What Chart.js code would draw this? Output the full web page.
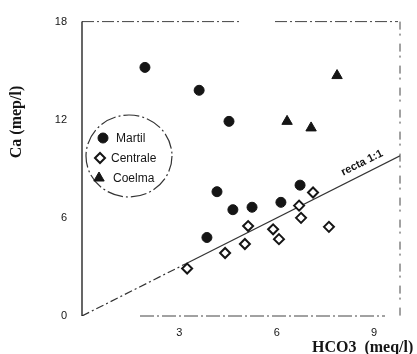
<!DOCTYPE html>
<html>
<head>
<meta charset="utf-8">
<script src="https://cdn.jsdelivr.net/npm/chart.js@4/dist/chart.umd.min.js"></script>
<style>
  html, body { margin: 0; padding: 0; background: #fff; }
</style>
</head>
<body>
<canvas id="chart" width="417" height="354"></canvas>
<script>
// values
const martilX = [1.94, 3.61, 4.53, 4.16, 4.65, 5.24, 3.85, 6.13, 6.72];
const martilY = [15.2, 13.8, 11.9, 7.6, 6.5, 6.65, 4.8, 6.95, 8.0];
const centraleX = [3.24, 4.41, 5.02, 5.12, 5.89, 6.07, 6.69, 6.75, 7.12, 7.61];
const centraleY = [2.9, 3.85, 4.4, 5.5, 5.3, 4.7, 6.75, 6.0, 7.55, 5.45];
const coelmaX = [6.32, 7.06, 7.86];
const coelmaY = [11.9, 11.5, 14.7];
const rectaX = [0, 3.2, 9.8];   // 1:1 reference line, y = x
const xTicks = [3, 6, 9];
const yTicks = [0, 6, 12, 18];
const seriesNames = ['Martil', 'Centrale', 'Coelma'];

const INK = '#151515';
const toPoints = (xs, ys) => xs.map((x, i) => ({ x: x, y: ys[i] }));

const extras = {
  id: 'extras',
  afterDraw: (chart) => {
    const { ctx, chartArea: a, scales } = chart;
    ctx.save();

    // frame (dash-dot, like the scan)
    ctx.strokeStyle = '#444';
    ctx.lineWidth = 1;
    ctx.setLineDash([12, 3, 2, 3]);
    ctx.beginPath();
    ctx.moveTo(a.left, a.top); ctx.lineTo(a.left + 160, a.top);
    ctx.moveTo(a.left + 193, a.top); ctx.lineTo(a.right - 2, a.top);
    ctx.stroke();
    ctx.setLineDash([8, 4, 2, 8]);
    ctx.beginPath();
    ctx.moveTo(a.right, a.top); ctx.lineTo(a.right, a.bottom);
    ctx.stroke();
    ctx.setLineDash([14, 3, 2, 3]);
    ctx.beginPath();
    ctx.moveTo(a.left + 58, a.bottom); ctx.lineTo(a.right - 15, a.bottom);
    ctx.stroke();
    ctx.setLineDash([]);
    ctx.strokeStyle = INK;
    ctx.lineWidth = 1.3;
    ctx.beginPath();
    ctx.moveTo(a.left, a.top); ctx.lineTo(a.left, a.bottom);
    ctx.stroke();

    // legend in a dashed circle
    ctx.strokeStyle = '#333';
    ctx.lineWidth = 1.2;
    ctx.setLineDash([16, 3, 2, 3]);
    ctx.beginPath();
    ctx.ellipse(129, 156, 43, 41, 0, 0, Math.PI * 2);
    ctx.stroke();
    ctx.setLineDash([]);

    const legendRows = [
      { mx: 103, my: 138, tx: 116 },
      { mx: 100, my: 158, tx: 111 },
      { mx: 99, my: 178, tx: 113 },
    ];
    ctx.font = '12px "Liberation Sans", Arial, sans-serif';
    ctx.textBaseline = 'middle';
    ctx.textAlign = 'left';
    chart.data.datasets.slice(0, 3).forEach((ds, i) => {
      const r = legendRows[i];
      ctx.fillStyle = ds.backgroundColor;
      ctx.strokeStyle = ds.borderColor;
      ctx.lineWidth = ds.borderWidth;
      Chart.helpers.drawPoint(ctx, {
        pointStyle: ds.pointStyle, radius: ds.pointRadius, rotation: 0, borderWidth: ds.borderWidth
      }, r.mx, r.my);
      ctx.fillStyle = INK;
      ctx.fillText(seriesNames[i], r.tx, r.my + 1);
    });

    // "recta 1:1" label along the line
    const x = scales.x, y = scales.y;
    const ang = Math.atan2(y.getPixelForValue(9) - y.getPixelForValue(8), x.getPixelForValue(9) - x.getPixelForValue(8));
    ctx.save();
    ctx.translate(x.getPixelForValue(8.63), y.getPixelForValue(8.63) - 12);
    ctx.rotate(ang);
    ctx.font = 'bold 11px "Liberation Sans", Arial, sans-serif';
    ctx.textAlign = 'center';
    ctx.textBaseline = 'middle';
    ctx.fillStyle = INK;
    ctx.fillText('recta 1:1', 0, 0);
    ctx.restore();

    // axis titles
    ctx.fillStyle = INK;
    ctx.font = 'bold 16px "Liberation Serif", "Times New Roman", serif';
    ctx.textAlign = 'left';
    ctx.textBaseline = 'alphabetic';
    ctx.fillText('HCO3  (meq/l)', 312, 352);
    ctx.save();
    ctx.translate(21, 122);
    ctx.rotate(-Math.PI / 2);
    ctx.textAlign = 'center';
    ctx.fillText('Ca (mep/l)', 0, 0);
    ctx.restore();

    ctx.restore();
  }
};

new Chart(document.getElementById('chart'), {
  type: 'scatter',
  data: {
    datasets: [
      {
        label: seriesNames[0],
        data: toPoints(martilX, martilY),
        pointStyle: 'circle',
        pointRadius: 5,
        backgroundColor: INK,
        borderColor: INK,
        borderWidth: 1,
      },
      {
        label: seriesNames[1],
        data: toPoints(centraleX, centraleY),
        pointStyle: 'rectRot',
        pointRadius: 5,
        backgroundColor: '#fff',
        borderColor: INK,
        borderWidth: 2,
      },
      {
        label: seriesNames[2],
        data: toPoints(coelmaX, coelmaY),
        pointStyle: 'triangle',
        pointRadius: 6,
        backgroundColor: INK,
        borderColor: INK,
        borderWidth: 1,
      },
      {
        label: 'recta 1:1',
        data: toPoints(rectaX, rectaX),
        showLine: true,
        pointRadius: 0,
        borderColor: '#333',
        borderWidth: 1.2,
        segment: {
          borderDash: ctx => ctx.p0DataIndex === 0 ? [8, 3, 2, 3] : undefined,
        },
      },
    ]
  },
  options: {
    responsive: false,
    animation: false,
    devicePixelRatio: 1,
    layout: { padding: { left: 0, right: 17, top: 18, bottom: 0 } },
    plugins: {
      legend: { display: false },
      tooltip: { enabled: false },
    },
    scales: {
      x: {
        type: 'linear',
        min: 0,
        max: 9.8,
        afterBuildTicks: (scale) => { scale.ticks = xTicks.map(v => ({ value: v })); },
        afterFit: (scale) => { scale.height = 38; },
        grid: { display: false, drawTicks: false },
        border: { display: false },
        ticks: {
          padding: 10,
          color: INK,
          font: { family: '"Liberation Sans", Arial, sans-serif', size: 11 },
        },
      },
      y: {
        type: 'linear',
        min: 0,
        max: 18,
        afterBuildTicks: (scale) => { scale.ticks = yTicks.map(v => ({ value: v })); },
        afterFit: (scale) => { scale.width = 82; },
        grid: { display: false, drawTicks: false },
        border: { display: false },
        ticks: {
          padding: 15,
          color: INK,
          font: { family: '"Liberation Sans", Arial, sans-serif', size: 11 },
        },
      },
    },
  },
  plugins: [extras],
});
</script>
</body>
</html>
